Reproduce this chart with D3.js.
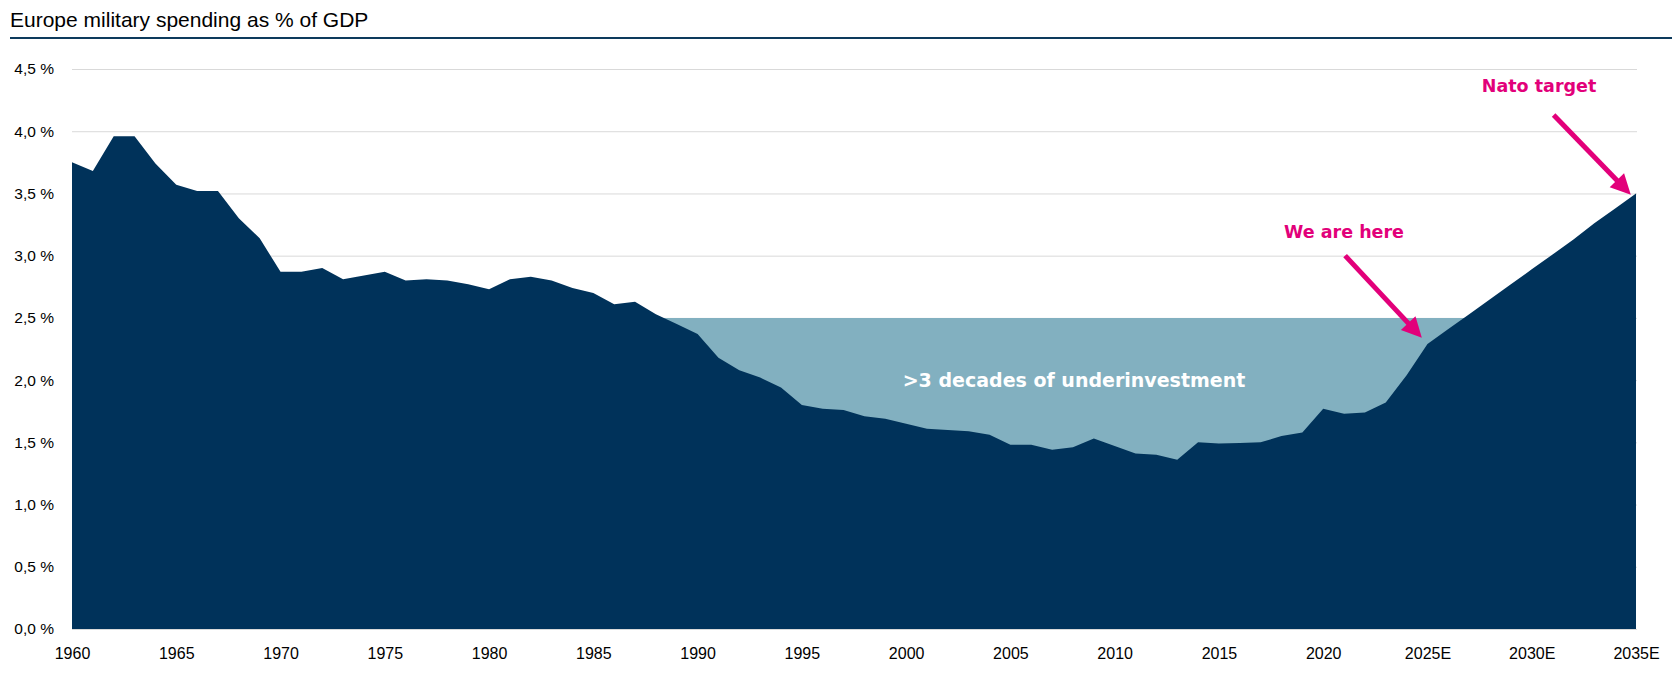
<!DOCTYPE html>
<html>
<head>
<meta charset="utf-8">
<script src="https://cdn.jsdelivr.net/npm/d3@7"></script>
<style>
  html, body { margin: 0; padding: 0; background: #ffffff; }
  svg { display: block; font-family: "Liberation Sans", Arial, Helvetica, sans-serif; }
</style>
</head>
<body>
<svg id="chart" width="1679" height="676"></svg>
<script>
// ---------- DATA ----------
const years = d3.range(1960, 2036);
const spending = [
  3.75, 3.68, 3.96, 3.96, 3.74, 3.57, 3.52, 3.52, 3.30, 3.14,   // 1960-1969
  2.87, 2.87, 2.90, 2.81, 2.84, 2.87, 2.80, 2.81, 2.80, 2.77,   // 1970-1979
  2.73, 2.81, 2.83, 2.80, 2.74, 2.70, 2.61, 2.63, 2.53, 2.45,   // 1980-1989
  2.37, 2.18, 2.08, 2.02, 1.94, 1.80, 1.77, 1.76, 1.71, 1.69,   // 1990-1999
  1.65, 1.61, 1.60, 1.59, 1.56, 1.48, 1.48, 1.44, 1.46, 1.53,   // 2000-2009
  1.47, 1.41, 1.40, 1.36, 1.50, 1.49, 1.495, 1.50, 1.55, 1.58,  // 2010-2019
  1.77, 1.73, 1.74, 1.82, 2.04, 2.29, 2.41, 2.53, 2.65, 2.77,   // 2020-2029
  2.89, 3.01, 3.13, 3.26, 3.38, 3.50                            // 2030-2035
];
const benchmark = 2.5;  // level of the "underinvestment" band
const yTicks = [0, 0.5, 1.0, 1.5, 2.0, 2.5, 3.0, 3.5, 4.0, 4.5];
const xTickYears = [1960, 1965, 1970, 1975, 1980, 1985, 1990, 1995, 2000, 2005, 2010, 2015, 2020, 2025, 2030, 2035];
const xTickLabels = ["1960", "1965", "1970", "1975", "1980", "1985", "1990", "1995", "2000", "2005", "2010", "2015", "2020", "2025E", "2030E", "2035E"];

const titleText = "Europe military spending as % of GDP";
const bandLabel = ">3 decades of underinvestment";
const bandLabelPos = { year: 2008.05, value: 2.0 };
const annotations = [
  { text: "We are here", textYear: 2021.0, textValue: 3.19, fromYear: 2021.05, fromValue: 3.0, toYear: 2024.73, toValue: 2.34 },
  { text: "Nato target", textYear: 2030.35, textValue: 4.36, fromYear: 2031.05, fromValue: 4.13, toYear: 2034.75, toValue: 3.49 }
];

// ---------- LAYOUT ----------
const W = 1679, H = 676;
const mLeft = 72, mRight = 1636, mTop = 69, mBottom = 629;
const DARK = "#00325a", LIGHT = "#82b0c0", PINK = "#e2007a", GRID = "#d9d9d9";
const BASE_FONT = '"Liberation Sans", Arial, Helvetica, sans-serif';
const BOLD_FONT = '"DejaVu Sans", "Liberation Sans", Arial, sans-serif';

const svg = d3.select("#chart");
const data = years.map((yr, i) => ({ year: yr, value: spending[i] }));

const x = d3.scaleLinear().domain([1960, 2035]).range([mLeft, mRight]);
const y = d3.scaleLinear().domain([0, 4.5]).range([mBottom, mTop]);

// title
svg.append("text")
  .attr("x", 10).attr("y", 27)
  .style("font-family", BASE_FONT).style("font-size", "21px")
  .attr("fill", "#000")
  .text(titleText);
svg.append("line")
  .attr("x1", 10).attr("x2", 1672)
  .attr("y1", 38).attr("y2", 38)
  .attr("stroke", "#0d3a5c").attr("stroke-width", 2);

// gridlines + y axis
const yAxis = d3.axisLeft(y)
  .tickValues(yTicks)
  .tickSize(-(mRight - mLeft + 1))
  .tickPadding(18)
  .tickFormat(d => d.toFixed(1).replace(".", ",") + " %");
const gy = svg.append("g").attr("transform", `translate(${mLeft},0)`).call(yAxis);
gy.select(".domain").remove();
gy.selectAll(".tick line").attr("stroke", GRID).attr("stroke-width", 1);
gy.selectAll(".tick text")
  .style("font-family", BASE_FONT).style("font-size", "15.5px")
  .attr("fill", "#000");

// underinvestment band (light) — lies under the dark area
const band = d3.area()
  .x(d => x(d.year))
  .y0(y(0))
  .y1(y(benchmark));
svg.append("path").datum(data)
  .attr("fill", LIGHT)
  .attr("d", band);

// spending area
const area = d3.area()
  .x(d => x(d.year))
  .y0(y(0))
  .y1(d => y(d.value));
svg.append("path").datum(data)
  .attr("fill", DARK)
  .attr("d", area);

// x axis
const xAxis = d3.axisBottom(x)
  .tickValues(xTickYears)
  .tickSize(0)
  .tickPadding(19)
  .tickFormat((d, i) => xTickLabels[i]);
const gx = svg.append("g").attr("transform", `translate(0,${mBottom})`).call(xAxis);
gx.select(".domain").remove();
gx.selectAll(".tick text")
  .style("font-family", BASE_FONT).style("font-size", "16px")
  .attr("fill", "#000");

// band label
svg.append("text")
  .attr("x", x(bandLabelPos.year)).attr("y", y(bandLabelPos.value))
  .attr("text-anchor", "middle").attr("dominant-baseline", "central")
  .style("font-family", BOLD_FONT).style("font-size", "19px").style("font-weight", "bold")
  .attr("fill", "#ffffff")
  .text(bandLabel);

// annotations with arrows
const headLen = 20, headHalf = 10;
annotations.forEach(a => {
  svg.append("text")
    .attr("x", x(a.textYear)).attr("y", y(a.textValue))
    .attr("text-anchor", "middle").attr("dominant-baseline", "central")
    .style("font-family", BOLD_FONT).style("font-size", "17.5px").style("font-weight", "bold")
    .attr("fill", PINK)
    .text(a.text);
  const x1 = x(a.fromYear), y1 = y(a.fromValue);
  const x2 = x(a.toYear), y2 = y(a.toValue);
  const dx = x2 - x1, dy = y2 - y1, len = Math.hypot(dx, dy);
  const ux = dx / len, uy = dy / len;
  const bx = x2 - ux * headLen, by = y2 - uy * headLen;
  svg.append("line")
    .attr("x1", x1).attr("y1", y1)
    .attr("x2", bx + ux * 1).attr("y2", by + uy * 1)
    .attr("stroke", PINK).attr("stroke-width", 5);
  svg.append("path")
    .attr("d", `M${x2},${y2} L${bx - uy * headHalf},${by + ux * headHalf} L${bx + uy * headHalf},${by - ux * headHalf} Z`)
    .attr("fill", PINK);
});
</script>
</body>
</html>
